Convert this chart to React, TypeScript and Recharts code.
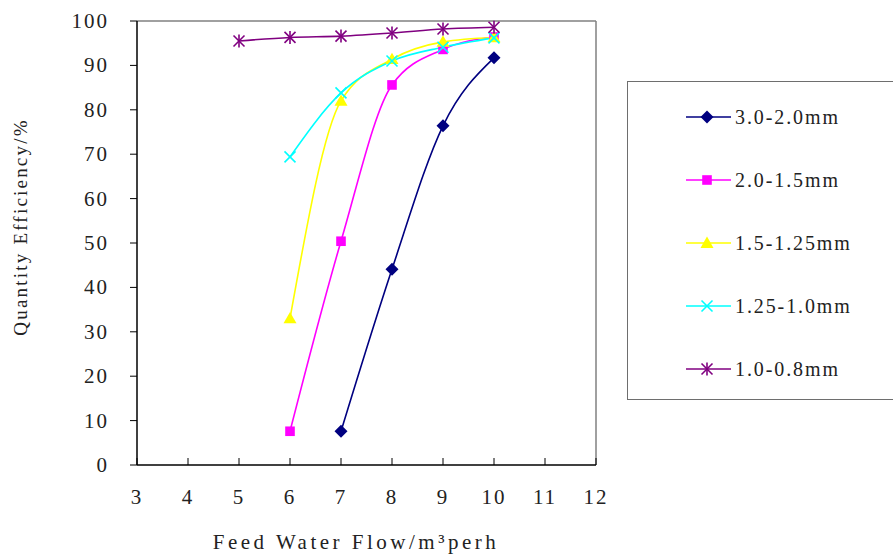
import React from "react";
import { LineChart, Line, XAxis, YAxis, ReferenceLine } from "recharts";

// ---- data ----

const xTicks = [3, 4, 5, 6, 7, 8, 9, 10, 11, 12];
const yTicks = [0, 10, 20, 30, 40, 50, 60, 70, 80, 90, 100];

const flowA = [7, 8, 9, 10];
const effA = [7.6, 44.1, 76.4, 91.7];

const flowB = [6, 7, 8, 9, 10];
const effB = [7.6, 50.4, 85.6, 93.6, 96.4];

const flowC = [6, 7, 8, 9, 10];
const effC = [33.0, 82.0, 91.4, 95.3, 96.3];

const flowD = [6, 7, 8, 9, 10];
const effD = [69.4, 83.8, 91.0, 94.1, 96.2];

const flowE = [5, 6, 7, 8, 9, 10];
const effE = [95.5, 96.3, 96.6, 97.3, 98.2, 98.6];

const seriesNames = ["3.0-2.0mm", "2.0-1.5mm", "1.5-1.25mm", "1.25-1.0mm", "1.0-0.8mm"];
const seriesColors = ["#000080", "#ff00ff", "#ffff00", "#00ffff", "#800080"];
const seriesMarkers = ["diamond", "square", "triangle", "cross", "star"];

const toPoints = (xs: number[], ys: number[]) => xs.map((x, i) => ({ x, y: ys[i] }));

const series = [
  toPoints(flowA, effA),
  toPoints(flowB, effB),
  toPoints(flowC, effC),
  toPoints(flowD, effD),
  toPoints(flowE, effE),
];

const FONT = "'Liberation Serif', 'DejaVu Serif', serif";

// ---- markers ----

function Marker({ kind, color, cx, cy }: { kind: string; color: string; cx: number; cy: number }) {
  if (kind === "diamond") {
    const r = 6.5;
    return <polygon points={`${cx},${cy - r} ${cx + r},${cy} ${cx},${cy + r} ${cx - r},${cy}`} fill={color} />;
  }
  if (kind === "square") {
    const r = 4.8;
    return <rect x={cx - r} y={cy - r} width={r * 2} height={r * 2} fill={color} />;
  }
  if (kind === "triangle") {
    const r = 6.5;
    return <polygon points={`${cx},${cy - r} ${cx + r},${cy + r * 0.75} ${cx - r},${cy + r * 0.75}`} fill={color} />;
  }
  if (kind === "cross") {
    const r = 5.5;
    return (
      <g stroke={color} strokeWidth={1.6}>
        <line x1={cx - r} y1={cy - r} x2={cx + r} y2={cy + r} />
        <line x1={cx - r} y1={cy + r} x2={cx + r} y2={cy - r} />
      </g>
    );
  }
  const r = 5.5;
  return (
    <g stroke={color} strokeWidth={1.6}>
      <line x1={cx - r} y1={cy - r} x2={cx + r} y2={cy + r} />
      <line x1={cx - r} y1={cy + r} x2={cx + r} y2={cy - r} />
      <line x1={cx} y1={cy - r - 1} x2={cx} y2={cy + r + 1} />
    </g>
  );
}

const makeDot = (kind: string, color: string) => (props: any) => {
  const { cx, cy, index } = props;
  if (cx == null || cy == null) return <g key={`d-${index}`} />;
  return <Marker key={`d-${kind}-${index}`} kind={kind} color={color} cx={cx} cy={cy} />;
};

// ---- axis ticks ----

function XTick(props: any) {
  const { x, y, payload } = props;
  return (
    <g>
      <line x1={x} y1={y} x2={x} y2={y - 7} stroke="#000" strokeWidth={1} />
      <text x={x} y={y + 39} textAnchor="middle" fontFamily={FONT} fontSize={21} fill="#222" letterSpacing={2}>
        {payload.value}
      </text>
    </g>
  );
}

function YTick(props: any) {
  const { x, y, payload } = props;
  return (
    <text x={x} y={y + 7} textAnchor="end" fontFamily={FONT} fontSize={21} fill="#222" letterSpacing={2}>
      {payload.value}
    </text>
  );
}

// ---- main ----

export default function App() {
  return (
    <div style={{ position: "absolute", left: 0, top: 0, width: 893, height: 556, background: "#fff" }}>
      <LineChart width={893} height={556} margin={{ top: 21, right: 297, bottom: 51, left: 0 }}>
        <XAxis
          type="number"
          dataKey="x"
          domain={[3, 12]}
          ticks={xTicks}
          allowDataOverflow
          axisLine={{ stroke: "#000", strokeWidth: 1.5 }}
          tickLine={false}
          tickSize={0}
          tickMargin={0}
          height={40}
          tick={<XTick />}
          label={{
            content: () => (
              <text x={356} y={549} textAnchor="middle" fontFamily={FONT} fontSize={21} fill="#222" letterSpacing={3.5}>
                Feed Water Flow/m³perh
              </text>
            ),
          }}
        />
        <YAxis
          type="number"
          dataKey="y"
          domain={[0, 100]}
          ticks={yTicks}
          width={137}
          axisLine={{ stroke: "#000", strokeWidth: 1.5 }}
          tickLine={{ stroke: "#000" }}
          tickSize={7}
          tickMargin={21}
          tick={<YTick />}
          label={{
            content: () => (
              <text
                x={0}
                y={0}
                transform="translate(27 227) rotate(-90)"
                textAnchor="middle"
                fontFamily={FONT}
                fontSize={19}
                fill="#222"
                letterSpacing={2.2}
              >
                Quantity Efficiency/%
              </text>
            ),
          }}
        />
        <ReferenceLine y={100} stroke="#808080" strokeWidth={1.5} />
        <ReferenceLine x={12} stroke="#808080" strokeWidth={1.5} />
        {series.map((pts, i) => (
          <Line
            key={seriesNames[i]}
            data={pts}
            dataKey="y"
            name={seriesNames[i]}
            type="monotone"
            stroke={seriesColors[i]}
            strokeWidth={1.6}
            dot={makeDot(seriesMarkers[i], seriesColors[i])}
            activeDot={false}
            isAnimationActive={false}
          />
        ))}
      </LineChart>

      {/* Legend box, right edge runs off the canvas like the reference */}
      <div
        style={{
          position: "absolute",
          left: 627,
          top: 81,
          width: 290,
          height: 319,
          border: "1.5px solid #6e6e6e",
          boxSizing: "border-box",
        }}
      >
        {seriesNames.map((name, i) => (
          <svg
            key={name}
            width={250}
            height={30}
            style={{ position: "absolute", left: 56, top: 20 + i * 63 }}
          >
            <line x1={2} y1={15} x2={47} y2={15} stroke={seriesColors[i]} strokeWidth={1.6} />
            <Marker kind={seriesMarkers[i]} color={seriesColors[i]} cx={23} cy={15} />
            <text x={51} y={22} fontFamily={FONT} fontSize={20} fill="#222" letterSpacing={1.9}>
              {name}
            </text>
          </svg>
        ))}
      </div>
    </div>
  );
}
